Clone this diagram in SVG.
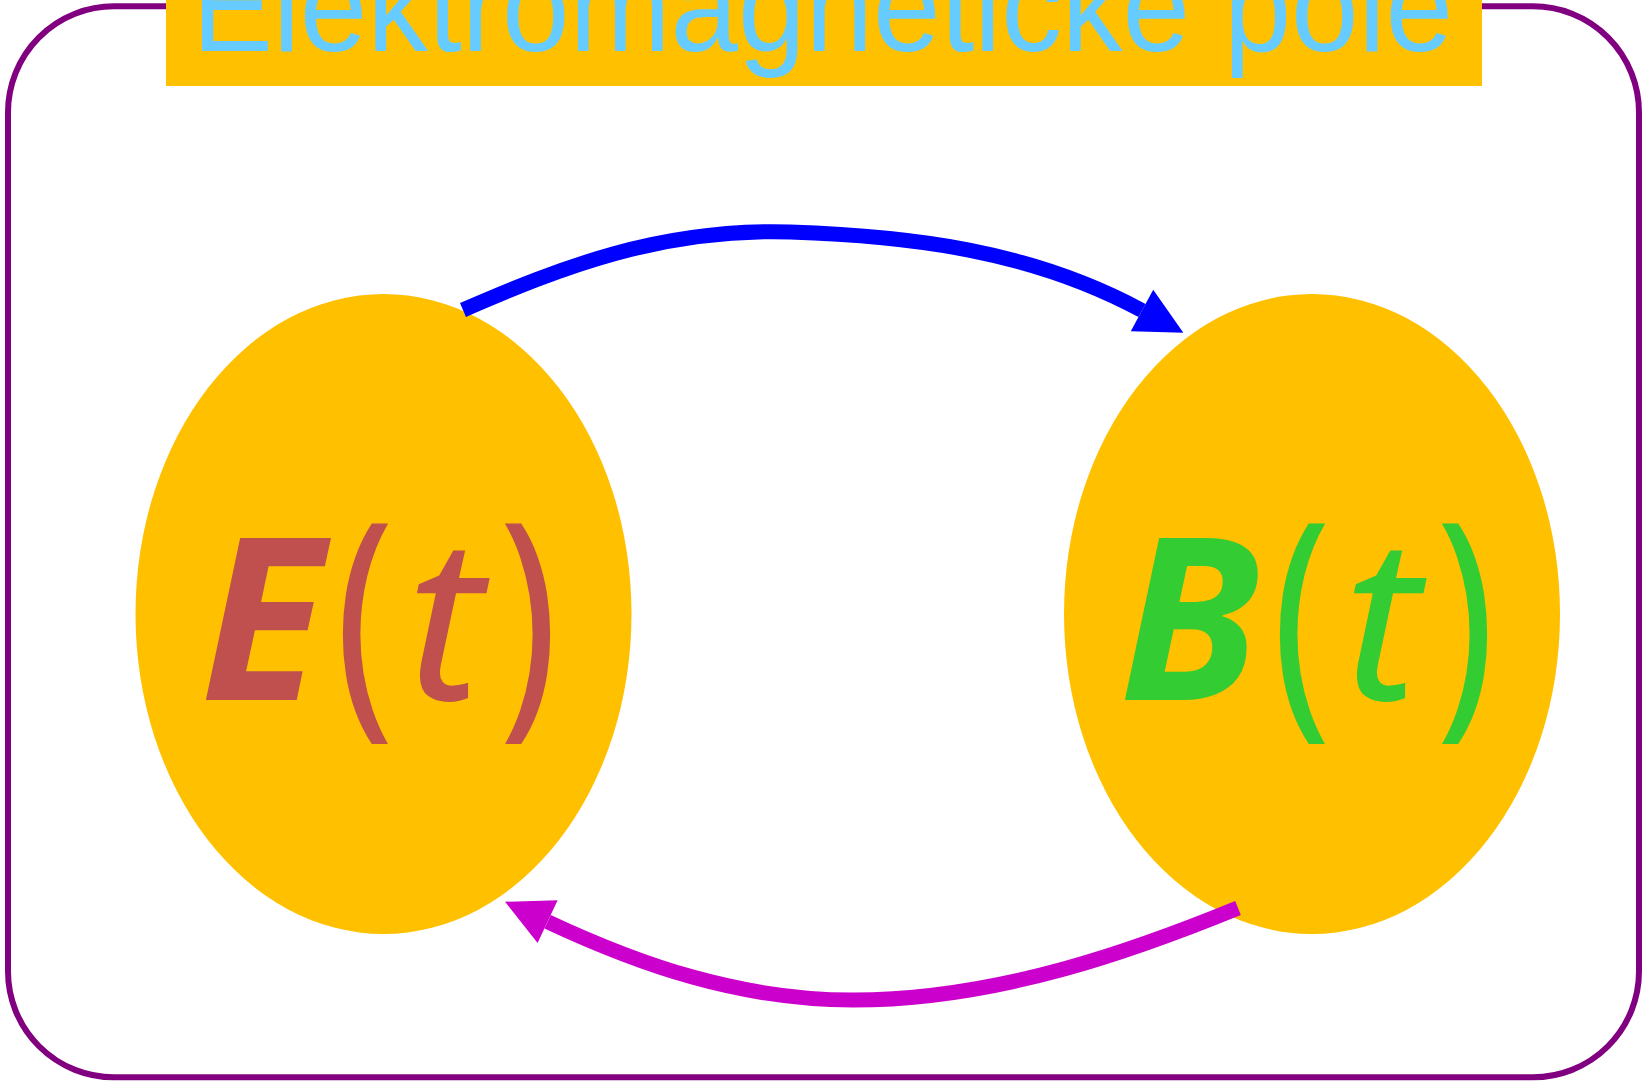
<svg xmlns="http://www.w3.org/2000/svg" width="1645" height="1081" viewBox="0 0 1645 1081">
<style>
.node{fill:#FFC000;}
.lbl{font-family:"Noto Sans","Open Sans","DejaVu Sans",sans-serif;font-size:227px;}
.par{font-family:"Noto Sans","Open Sans","DejaVu Sans",sans-serif;font-size:252px;font-style:normal;font-weight:normal;}
.var{font-style:italic;font-weight:normal;}
.big{font-style:italic;font-weight:bold;}
.conn{fill:none;stroke-width:15;}
</style>
<defs>
<marker id="ahBlue" markerUnits="userSpaceOnUse" markerWidth="60" markerHeight="60" refX="0" refY="0" viewBox="0 -30 60 60" orient="auto" overflow="visible">
<path d="M0,-23.6 L47,0 L0,23.6 Z" fill="#0000FF"/>
</marker>
<marker id="ahMag" markerUnits="userSpaceOnUse" markerWidth="60" markerHeight="60" refX="0" refY="0" viewBox="0 -30 60 60" orient="auto" overflow="visible">
<path d="M0,-23.6 L47,0 L0,23.6 Z" fill="#CC00CC"/>
</marker>
</defs>
<rect id="frame" x="8" y="6.3" width="1631" height="1071" rx="106" ry="106" fill="#FFFFFF" stroke="#800080" stroke-width="6"/>
<g id="title">
<rect x="166" y="0" width="1316" height="86" fill="#FFC000"/>
<text x="192" y="51" font-family="'Liberation Sans','DejaVu Sans',sans-serif" font-size="130" fill="#66CCFF" textLength="1261" lengthAdjust="spacingAndGlyphs">Elektromagnetické pole</text>
</g>
<g id="node-E">
<ellipse class="node" cx="383.5" cy="614" rx="248" ry="320"/>
<text class="lbl" y="700" fill="#C0504D"><tspan class="big" x="200">E</tspan><tspan class="var" x="407">t</tspan></text>
<text class="par" transform="translate(335,704) scale(0.78,1)" fill="#C0504D">(</text>
<text class="par" transform="translate(499,704) scale(0.78,1)" fill="#C0504D">)</text>
</g>
<g id="node-B">
<ellipse class="node" cx="1312" cy="614" rx="248" ry="320"/>
<text class="lbl" y="700" fill="#33CC33"><tspan class="big" x="1119">B</tspan><tspan class="var" x="1344">t</tspan></text>
<text class="par" transform="translate(1272,704) scale(0.78,1)" fill="#33CC33">(</text>
<text class="par" transform="translate(1436,704) scale(0.78,1)" fill="#33CC33">)</text>
</g>
<g id="connectors">
<path class="conn" stroke="#0000FF" marker-end="url(#ahBlue)" d="M463,310 C560,268 660,228 790,232 C910,236 1030,250 1142,310.5"/>
<path class="conn" stroke="#CC00CC" marker-end="url(#ahMag)" d="M1238,908 C1140,948 1000,1000 853,1000 C740,1000 640,965 547.6,921.7"/>
</g>
</svg>
